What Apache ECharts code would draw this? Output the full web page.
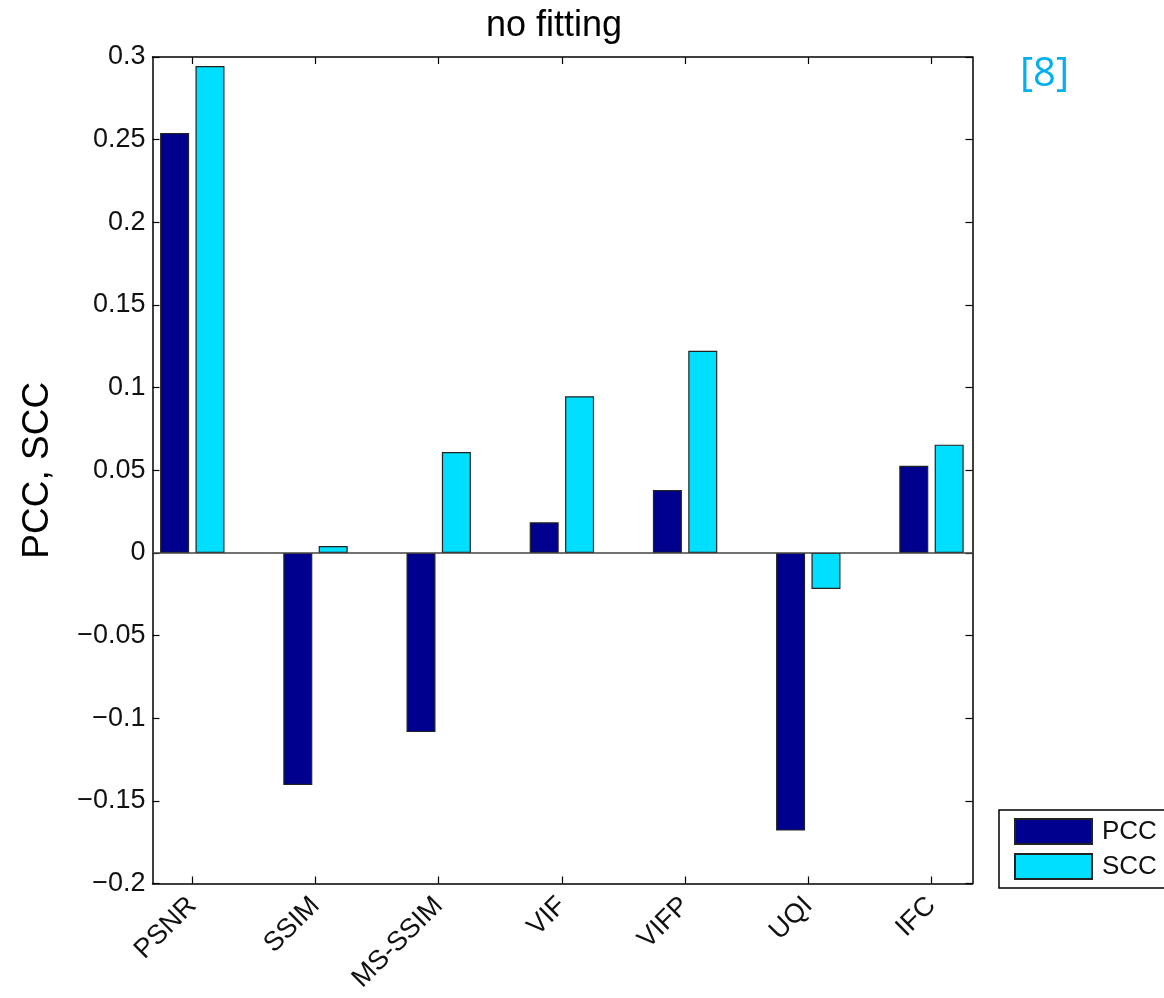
<!DOCTYPE html>
<html><head><meta charset="utf-8">
<script src="https://cdn.jsdelivr.net/npm/echarts@6/dist/echarts.min.js"></script>
<style>html,body{margin:0;padding:0;background:#fff}#c{width:1164px;height:998px}</style>
</head><body><div id="c"></div>
<script>
const categories = ['PSNR', 'SSIM', 'MS-SSIM', 'VIF', 'VIFP', 'UQI', 'IFC'];
const pccValues = [0.254, -0.1404, -0.1084, 0.0185, 0.038, -0.168, 0.0527];
const sccValues = [0.2945, 0.0042, 0.061, 0.0948, 0.1223, -0.0218, 0.0655];
const seriesNames = ['PCC', 'SCC'];
const titleText = 'no fitting';
const yAxisTitle = 'PCC, SCC';
const refText = '[8]';

const FONT = 'Liberation Sans, Arial, Helvetica, sans-serif';
const positions = categories.map((c, i) => i + 1);
const chart = echarts.init(document.getElementById('c'), null, {renderer: 'canvas'});

const axisLine = {show: true, lineStyle: {color: '#000', width: 1.5}};
const option = {
  animation: false,
  backgroundColor: '#fff',
  grid: {left: 152.5, top: 57, width: 820, height: 826.5, containLabel: false},
  graphic: [
    {type: 'text', left: 557 - 71, top: 8,
     style: {text: titleText, font: 'normal 36px ' + FONT, fill: '#000'}},
    {type: 'text', left: 1020, top: 55,
     style: {text: refText, font: 'normal 40px Open Sans, Lato, sans-serif', fill: '#00B0F0'}}
  ],
  legend: {
    data: seriesNames, orient: 'vertical', left: 999, top: 810,
    padding: [8, 40, 8, 15], itemWidth: 77, itemHeight: 25, itemGap: 8,
    borderColor: '#000', borderWidth: 1.5, icon: 'rect',
    textStyle: {fontSize: 26, fontFamily: FONT, color: '#111', padding: [0, 0, 0, 5]}
  },
  xAxis: [
    {type: 'value', position: 'bottom', min: 0.677, max: 7.333,
     axisLine: Object.assign({onZero: false}, axisLine),
     axisTick: {show: true, inside: true, length: 7, customValues: positions, lineStyle: {color: '#000', width: 1.2}},
     axisLabel: {customValues: positions, rotate: 45, margin: 18, fontSize: 27, fontFamily: FONT, color: '#111',
                 formatter: v => categories[Math.round(v) - 1]},
     splitLine: {show: false}},
    {type: 'value', position: 'top', min: 0.677, max: 7.333,
     axisLine: Object.assign({onZero: false}, axisLine),
     axisTick: {show: true, inside: true, length: 7, customValues: positions, lineStyle: {color: '#000', width: 1.2}},
     axisLabel: {show: false}, splitLine: {show: false}}
  ],
  yAxis: [
    {type: 'value', position: 'left', min: -0.2, max: 0.3, interval: 0.05,
     axisLine: Object.assign({onZero: false}, axisLine),
     axisTick: {show: true, inside: true, length: 7, lineStyle: {color: '#000', width: 1.2}},
     axisLabel: {fontSize: 27, fontFamily: FONT, color: '#111', margin: 7,
                 formatter: v => String(+v.toFixed(2)).replace('-', '\u2212')},
     splitLine: {show: false},
     name: yAxisTitle, nameLocation: 'middle', nameRotate: 90, nameGap: 96,
     nameTextStyle: {fontSize: 37, fontFamily: FONT, color: '#000'}},
    {type: 'value', position: 'right', min: -0.2, max: 0.3, interval: 0.05,
     axisLine: Object.assign({onZero: false}, axisLine),
     axisTick: {show: true, inside: true, length: 7, lineStyle: {color: '#000', width: 1.2}},
     axisLabel: {show: false}, splitLine: {show: false}}
  ],
  series: [
    {name: seriesNames[0], type: 'bar', xAxisIndex: 0, yAxisIndex: 0,
     data: pccValues.map((v, i) => [positions[i], v]),
     barWidth: 29, barGap: '22%',
     itemStyle: {color: '#00008F', borderColor: '#222', borderWidth: 1.2},
     markLine: {silent: true, symbol: 'none', label: {show: false},
                lineStyle: {color: '#444', width: 1.5, type: 'solid'},
                data: [{yAxis: 0}]}},
    {name: seriesNames[1], type: 'bar', xAxisIndex: 0, yAxisIndex: 0,
     data: sccValues.map((v, i) => [positions[i], v]),
     barWidth: 29, barGap: '22%',
     itemStyle: {color: '#00DFFF', borderColor: '#222', borderWidth: 1.2}}
  ]
};
chart.setOption(option);
</script></body></html>
